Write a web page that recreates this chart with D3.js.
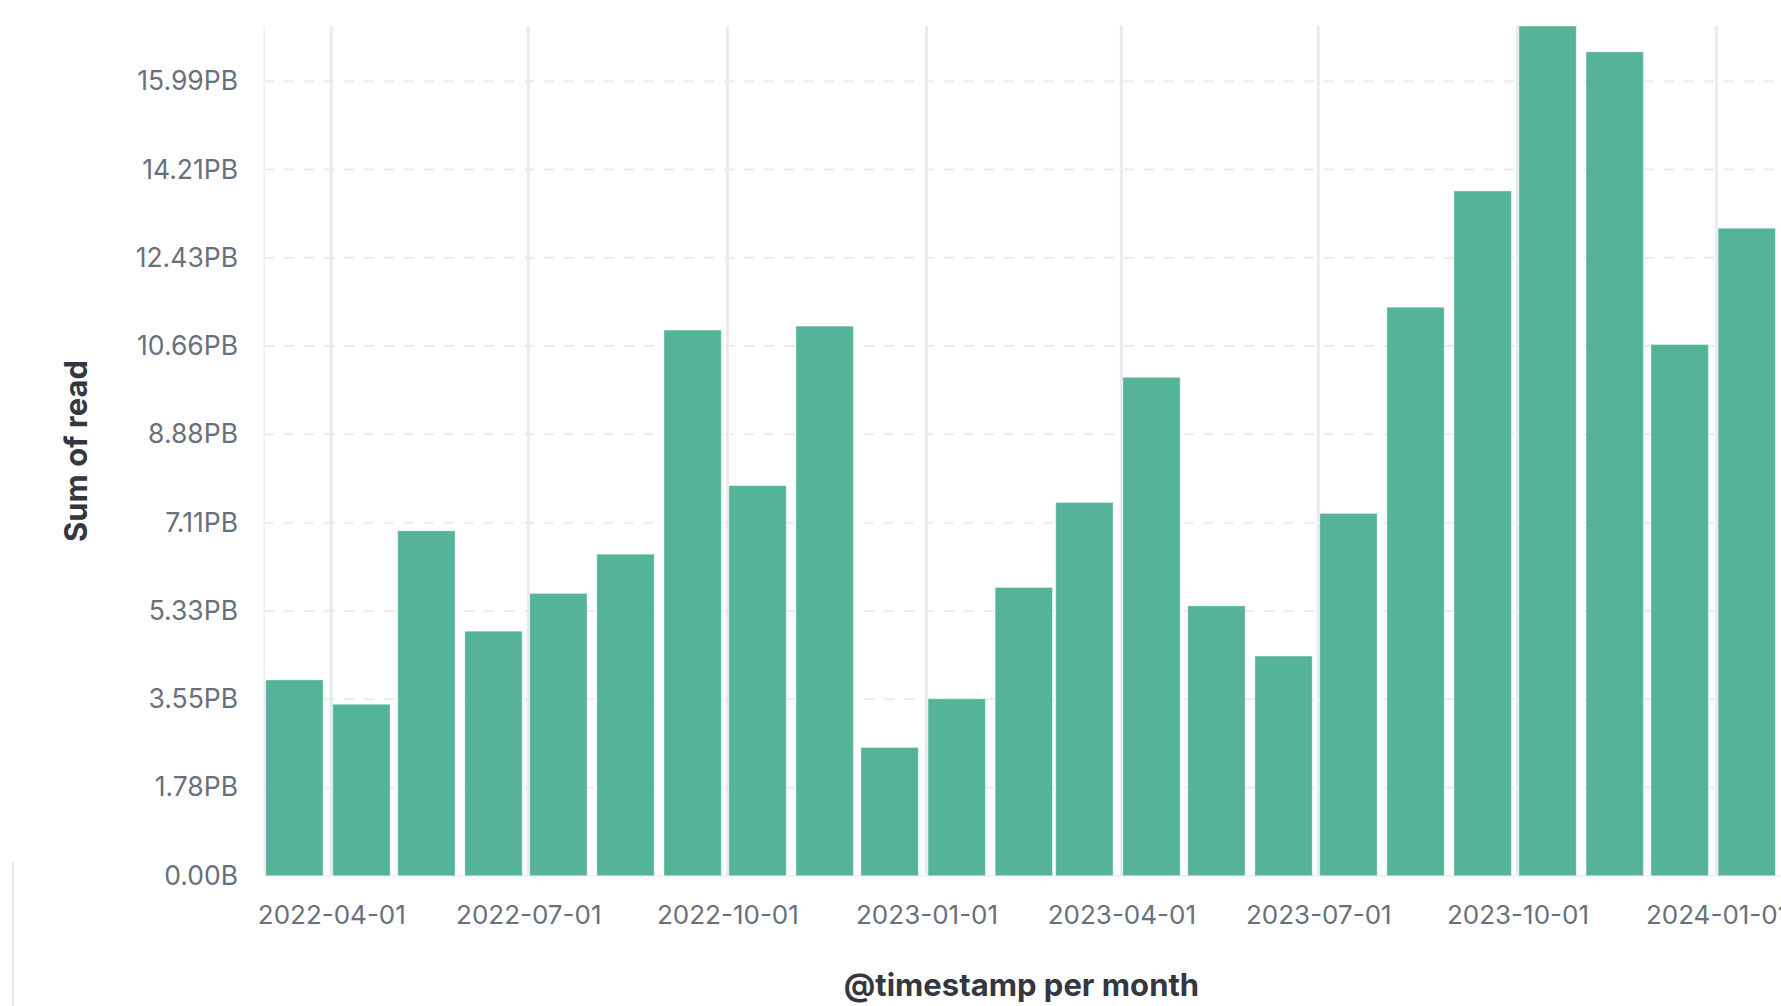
<!DOCTYPE html>
<html>
<head>
<meta charset="utf-8">
<script src="https://cdn.jsdelivr.net/npm/d3@7"></script>
<style>
  html, body { margin: 0; padding: 0; background: #fff; overflow: hidden; }
  svg { display: block; font-family: Inter, "Noto Sans", sans-serif; }
</style>
</head>
<body>
<svg id="chart" width="1781" height="1006"></svg>
<script>
// ---- data ----
const months = ["2022-03-01","2022-04-01","2022-05-01","2022-06-01","2022-07-01","2022-08-01",
  "2022-09-01","2022-10-01","2022-11-01","2022-12-01","2023-01-01","2023-02-01","2023-03-01",
  "2023-04-01","2023-05-01","2023-06-01","2023-07-01","2023-08-01","2023-09-01","2023-10-01",
  "2023-11-01","2023-12-01","2024-01-01"];
// Sum of read, in PB (axis units)
const readPB = [3.94, 3.45, 6.94, 4.92, 5.68, 6.47, 10.98, 7.85, 11.06, 2.58, 3.56, 5.80, 7.51,
  10.03, 5.43, 4.42, 7.29, 11.44, 13.78, 17.10, 16.58, 10.69, 13.03];
const yTickValues = [0, 1.776, 3.553, 5.329, 7.105, 8.882, 10.658, 12.434, 14.211, 15.987];
const yTickLabels = ["0.00B","1.78PB","3.55PB","5.33PB","7.11PB","8.88PB","10.66PB","12.43PB","14.21PB","15.99PB"];
const xTickDates = ["2022-04-01","2022-07-01","2022-10-01","2023-01-01","2023-04-01","2023-07-01","2023-10-01","2024-01-01"];
const xDomain = ["2022-03-01","2024-02-01"];
const yTitle = "Sum of read";
const xTitle = "@timestamp per month";

// ---- layout ----
const W = 1781, H = 1006;
const plot = { left: 264.2, right: 1783.7, top: 26, bottom: 875.7 };
const parse = d3.utcParse("%Y-%m-%d");
const data = months.map((m, i) => ({ date: parse(m), value: readPB[i] }));

const x = d3.scaleUtc().domain(xDomain.map(parse)).range([plot.left, plot.right]);
const y = d3.scaleLinear().domain([0, d3.max(readPB)]).range([plot.bottom, plot.top]);

const svg = d3.select("#chart");
svg.append("rect").attr("width", W).attr("height", H).attr("fill", "#fff");

// horizontal dashed gridlines
svg.append("g")
  .selectAll("line").data(yTickValues.slice(1)).join("line")
  .attr("x1", plot.left).attr("x2", plot.right)
  .attr("y1", d => y(d)).attr("y2", d => y(d))
  .attr("stroke", "#eaecf0").attr("stroke-width", 2)
  .attr("stroke-dasharray", "10,10");

// vertical gridlines at x ticks
svg.append("g")
  .selectAll("line").data(xTickDates.map(parse)).join("line")
  .attr("x1", d => x(d)).attr("x2", d => x(d))
  .attr("y1", plot.top).attr("y2", plot.bottom)
  .attr("stroke", "#e9ebef").attr("stroke-width", 3);

// axis lines
svg.append("line").attr("x1", plot.left).attr("x2", plot.left)
  .attr("y1", plot.top).attr("y2", plot.bottom)
  .attr("stroke", "#eceef2").attr("stroke-width", 1.5);
svg.append("line").attr("x1", plot.left).attr("x2", plot.right)
  .attr("y1", plot.bottom).attr("y2", plot.bottom)
  .attr("stroke", "#eceef2").attr("stroke-width", 1.5);

// bars (fixed-width histogram bars starting at each month)
const barPad = 1.5;
const barW = d => x(d3.utcDay.offset(d, 28)) - x(d) - 3.3;
svg.append("g")
  .selectAll("rect").data(data).join("rect")
  .attr("x", d => x(d.date) + barPad)
  .attr("width", d => barW(d.date))
  .attr("y", d => y(d.value))
  .attr("height", d => y(0) - y(d.value))
  .attr("fill", "#54B399")
  .attr("stroke", "rgba(255,255,255,0.35)")
  .attr("stroke-width", 1);

// y axis
const yAxis = d3.axisLeft(y).tickValues(yTickValues)
  .tickFormat((d, i) => yTickLabels[i]).tickSize(0);
const gy = svg.append("g").attr("transform", `translate(${plot.left},0)`).call(yAxis);
gy.select(".domain").remove();
gy.selectAll("text")
  .attr("x", -26.2).attr("dy", null).attr("y", 8.5)
  .attr("fill", "#69707D").attr("font-size", 26.5)
  .attr("font-family", "Inter, sans-serif");

// x axis
const xAxis = d3.axisBottom(x).tickValues(xTickDates.map(parse))
  .tickFormat(d3.utcFormat("%Y-%m-%d")).tickSize(0);
const gx = svg.append("g").attr("transform", `translate(0,${plot.bottom})`).call(xAxis);
gx.select(".domain").remove();
gx.selectAll("text")
  .attr("dy", null).attr("y", 48.8)
  .attr("fill", "#69707D").attr("font-size", 26)
  .attr("font-family", "Inter, sans-serif");

// axis titles
svg.append("text")
  .attr("x", 1021.5).attr("y", 996)
  .attr("text-anchor", "middle")
  .attr("font-size", 31).attr("font-weight", 700)
  .attr("fill", "#343741").text(xTitle);
svg.append("text")
  .attr("transform", "translate(86.5,451) rotate(-90)")
  .attr("text-anchor", "middle")
  .attr("font-size", 31).attr("font-weight", 700)
  .attr("fill", "#343741").text(yTitle);

// panel edge in the bottom-left corner
svg.append("line").attr("x1", 13).attr("x2", 13).attr("y1", 862).attr("y2", H)
  .attr("stroke", "#e9e9eb").attr("stroke-width", 2);
</script>
</body>
</html>
